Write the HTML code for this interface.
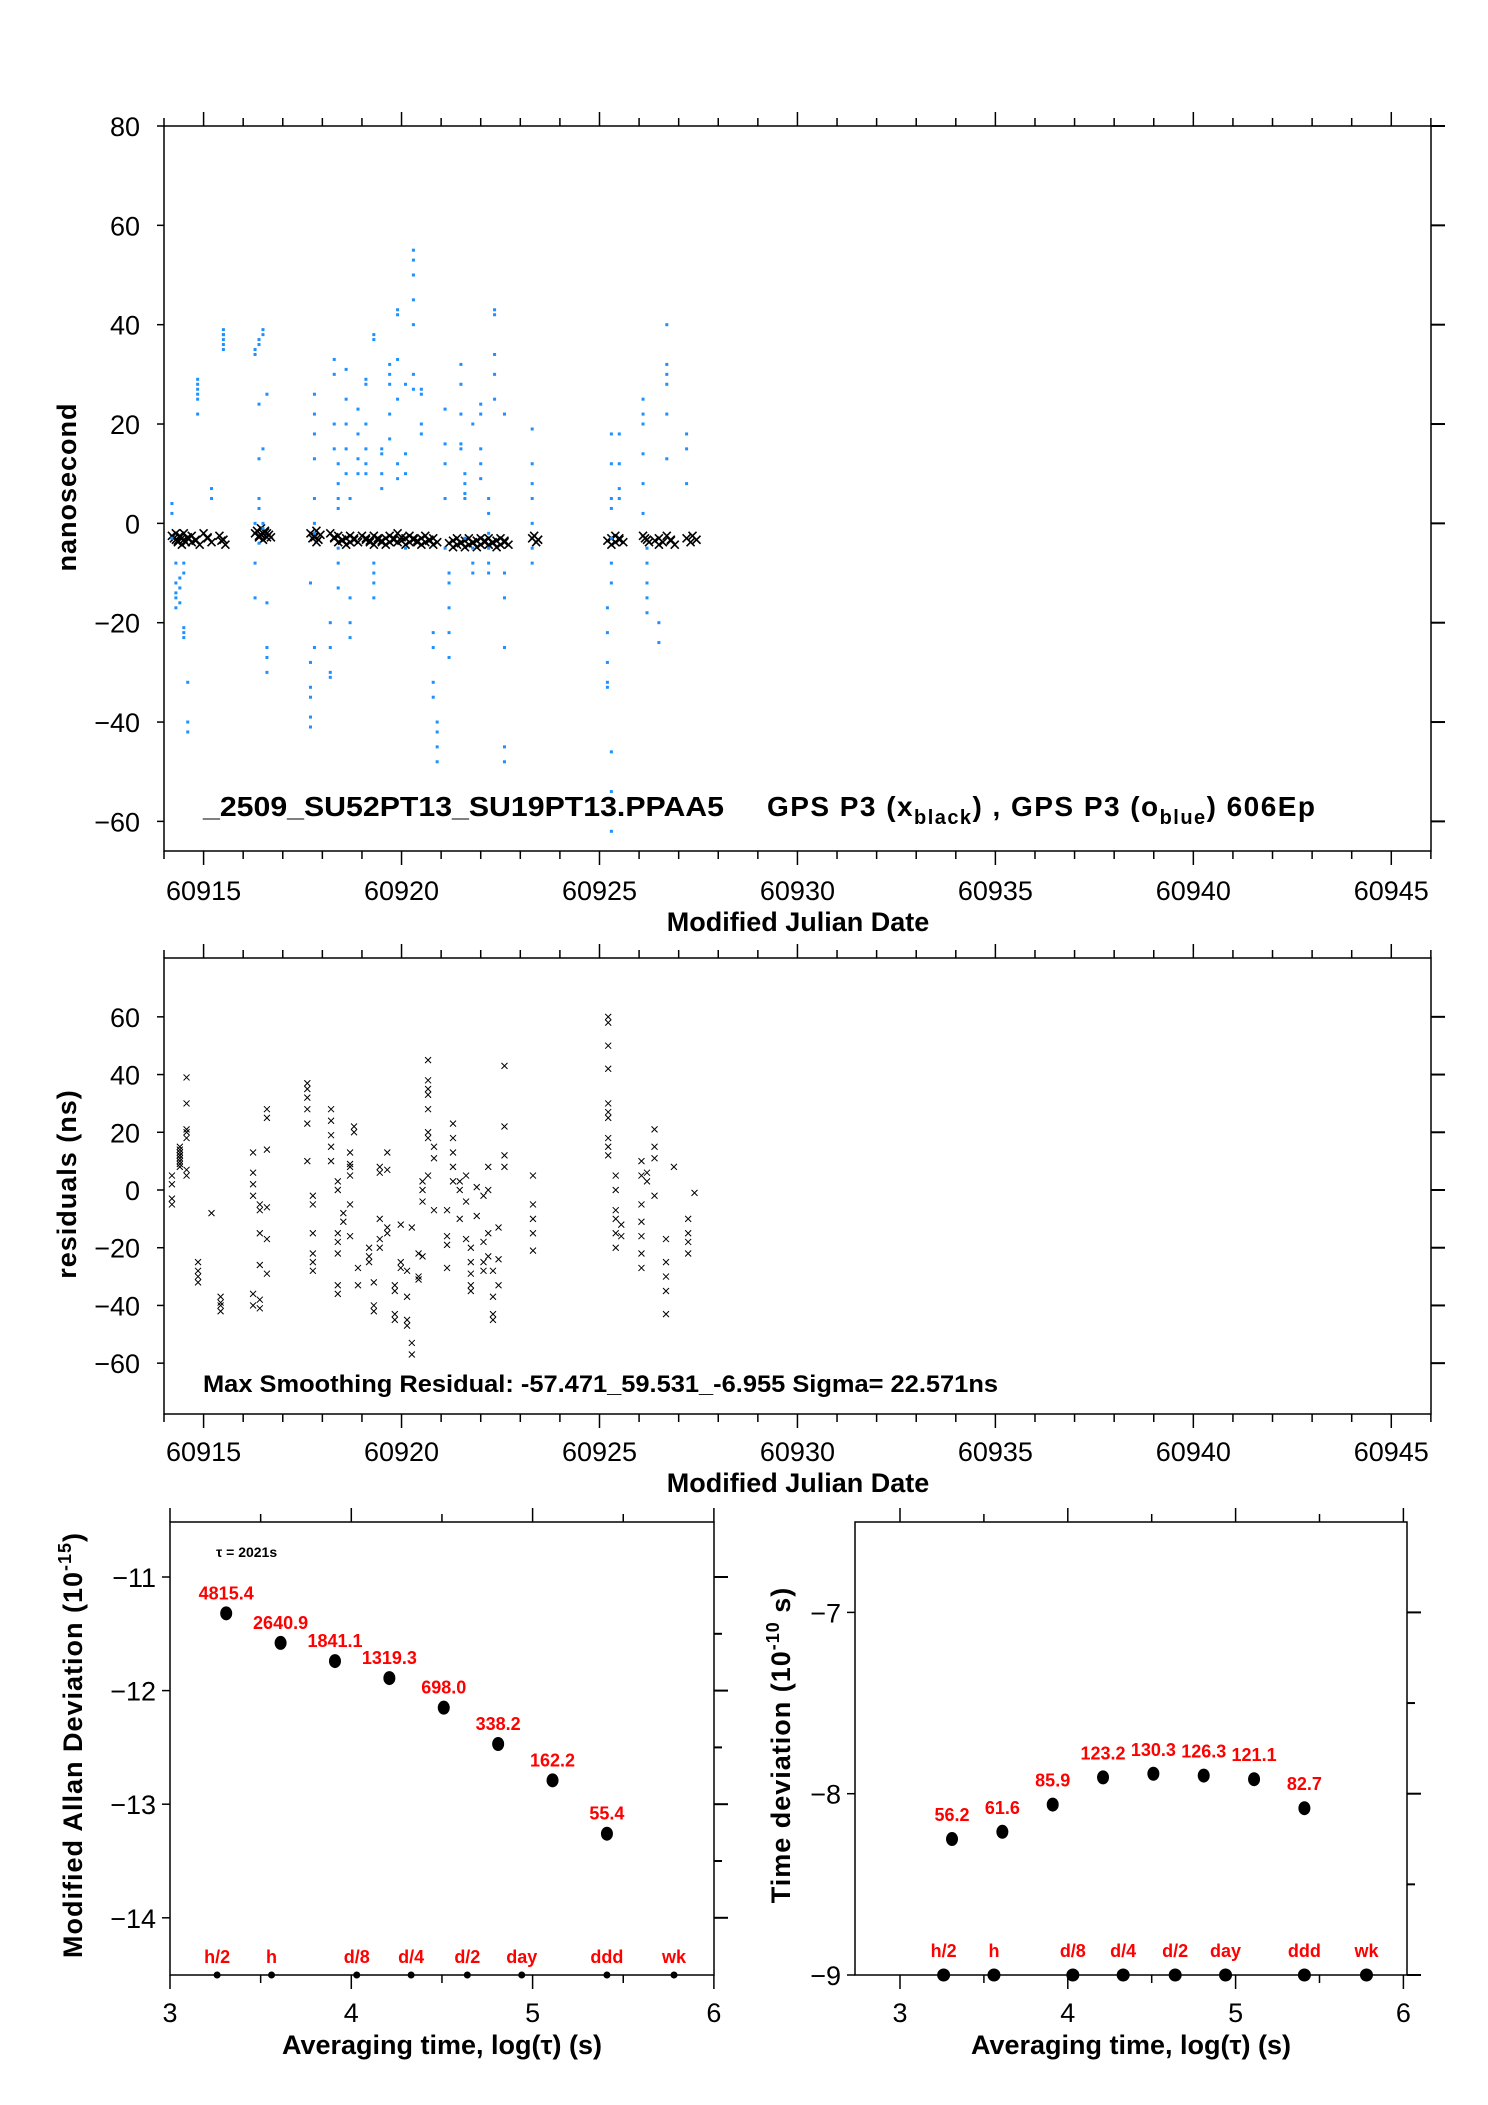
<!DOCTYPE html>
<html><head><meta charset="utf-8">
<style>
html,body{margin:0;padding:0;background:#fff;}
svg{display:block;font-family:"Liberation Sans",sans-serif;}
</style></head>
<body>
<svg id="fig" width="1488" height="2105" viewBox="0 0 1488 2105" xmlns="http://www.w3.org/2000/svg">
<rect x="0" y="0" width="1488" height="2105" fill="#fff"/>
<g id="top"></g>
<g id="mid"></g>
<g id="adev"></g>
<g id="tdev"></g>
</svg>
<script>
// ---------- data ----------
const mjdTicks = [60915,60920,60925,60930,60935,60940,60945];
const topYTicks = [80,60,40,20,0,-20,-40,-60];
const midYTicks = [60,40,20,0,-20,-40,-60];
const blueMjd = [60914.2,60914.3,60914.4,60914.5,60914.6,60914.85,60915.2,60915.5,60916.3,60916.4,60916.5,60916.6,60917.7,60917.8,60918.2,60918.3,60918.4,60918.6,60918.7,60918.9,60919.1,60919.3,60919.5,60919.7,60919.9,60920.1,60920.3,60920.5,60920.8,60920.9,60921.1,60921.2,60921.5,60921.6,60921.8,60922.0,60922.2,60922.35,60922.6,60923.3,60925.2,60925.3,60925.5,60926.1,60926.2,60926.5,60926.7,60927.2];
const blueNs = [[4,2,-3],[-8,-12,-15,-17,-14],[-16,-13,-11],[-21,-22,-23,-8,-10],[-32,-42,-40],[22,25,26,27,28,29],[5,7],[35,37,38,39,38,36],[34,35,-15,-8,0],[37,36,24,13,5,3,-4],[38,39,15,0,-1],[26,-16,-25,-27,-30],[-28,-33,-35,-39,-41,-12],[26,22,18,13,5,0,-2,-25],[-20,-25,-30,-31],[33,30,20,15],[12,8,5,3,-5,-8,-13],[31,25,20,15,10],[5,-15,-20,-23],[23,18,13,10],[29,28,20,15,12,10],[38,37,-8,-10,-12,-15],[15,14,10,7],[32,30,28,22,17],[43,42,33,25,12,9],[28,14,10,-5],[55,53,50,45,40,30,27],[20,18,27,26],[-22,-25,-32,-35],[-40,-42,-48,-45],[23,16,12,5,-5],[-10,-12,-17,-22,-27],[32,28,22,16,15],[10,8,6,5,-3],[-5,-8,-10,20],[24,22,15,12,9],[5,2,-2,-5,-8,-10],[43,42,34,30,25],[22,-25,-45,-48,-15,-10],[19,12,8,5,0,-5,-8],[-17,-22,-28,-32,-33],[18,12,5,3,-3,-8,-12,-46,-54,-62],[18,12,7,5],[25,22,20,14,8,2],[-5,-8,-12,-15,-18],[-24,-20],[40,32,30,28,22,13],[18,15,8]];
const blackMjd = [60914.2,60914.25,60914.3,60914.35,60914.4,60914.45,60914.5,60914.6,60914.7,60914.8,60915.0,60915.1,60915.4,60915.45,60916.3,60916.35,60916.4,60916.45,60916.5,60916.55,60916.6,60917.7,60917.75,60917.8,60917.85,60918.2,60918.3,60918.4,60918.5,60918.6,60918.7,60918.8,60919.0,60919.1,60919.2,60919.3,60919.4,60919.5,60919.6,60919.7,60919.8,60919.9,60920.0,60920.1,60920.2,60920.3,60920.4,60920.5,60920.6,60920.7,60920.8,60921.2,60921.3,60921.4,60921.5,60921.6,60921.7,60921.8,60921.9,60922.0,60922.1,60922.2,60922.3,60922.4,60922.5,60922.6,60923.3,60923.35,60925.2,60925.3,60925.4,60925.5,60926.1,60926.15,60926.4,60926.5,60926.7,60926.8,60927.2,60927.35];
const blackNs = [-2.5,-3,-2,-3.5,-2.5,-3,-2,-3,-2.5,-3.5,-2,-3,-2.5,-3.5,-2,-1.5,-2.5,-1,-2,-1.5,-2,-2,-3,-2.5,-1.5,-2,-3,-2.5,-3.5,-3,-2.5,-3,-2.5,-3,-3.5,-2.5,-3,-3.5,-3,-2.5,-3,-2,-3.5,-3,-2.5,-3,-3.5,-3,-2.5,-3.5,-3,-4,-3.5,-3,-4,-3.5,-3,-4,-3.5,-3,-3.5,-3,-4,-3.5,-3,-3.5,-3,-2.5,-3.5,-3,-2.5,-3,-2.5,-3,-3.5,-3,-2.5,-3.5,-3,-2.5];
const resMjd = [60914.2,60914.4,60914.57,60914.86,60915.2,60915.43,60916.25,60916.42,60916.6,60917.62,60917.76,60918.22,60918.39,60918.53,60918.7,60918.8,60918.9,60919.18,60919.3,60919.45,60919.64,60919.83,60919.98,60920.14,60920.26,60920.43,60920.53,60920.67,60920.82,60921.15,60921.3,60921.47,60921.63,60921.75,60921.9,60922.07,60922.19,60922.31,60922.45,60922.6,60923.32,60925.22,60925.41,60925.55,60926.06,60926.2,60926.39,60926.68,60926.88,60927.24,60927.4];
const resNs = [[-5,-3,2,5],[10,12,14,15,13,11,9,8,12],[20,18,21,39,30,5,7],[-25,-28,-30,-32],[-8],[-37,-40,-42,-39],[13,6,2,-2,-36,-40],[-5,-7,-15,-26,-38,-41],[28,25,14,-6,-17,-29],[37,35,32,28,23,10],[-2,-5,-15,-22,-25,-28],[28,24,19,15,10],[-15,-18,-22,-33,-36,0,3],[-8,-11],[13,9,8,5,-5,-16],[22,20],[-27,-33],[-20,-23,-25],[-32,-40,-42],[8,6,-10,-17,-20],[13,7,-13,-15],[-33,-35,-43,-45],[-12,-25,-27],[-37,-45,-47,-28],[-53,-57,-13],[-30,-31,-22],[-4,-23,0,3],[45,38,35,33,28,20,18,5],[15,11,-7],[-16,-19,-27,-7],[23,18,13,8,3],[-10,0,3],[5,-4,-17],[-20,-25,-29,-33,-35],[-9,1],[-18,-25,-28,-2],[-15,-23,0,8],[-37,-43,-45,-28],[-13,-24,-33],[43,22,12,8],[5,-5,-10,-15,-21],[60,58,50,42,30,27,25,18,15,12],[5,0,-7,-10,-15,-20],[-12,-16],[10,5,-5,-11,-16,-22,-27],[6,3],[21,15,11,-2],[-25,-30,-35,-43,-17],[8],[-10,-15,-18,-22],[-1]];
const adevLogTau = [3.31,3.61,3.91,4.21,4.51,4.81,5.11,5.41];
const adevVal = [-11.32,-11.58,-11.74,-11.89,-12.15,-12.47,-12.79,-13.26];
const adevLabels = ["4815.4","2640.9","1841.1","1319.3","698.0","338.2","162.2","55.4"];
const tdevLogTau = [3.31,3.61,3.91,4.21,4.51,4.81,5.11,5.41];
const tdevVal = [-8.25,-8.21,-8.06,-7.91,-7.89,-7.90,-7.92,-8.08];
const tdevLabels = ["56.2","61.6","85.9","123.2","130.3","126.3","121.1","82.7"];
const markLogTau = [3.26,3.56,4.03,4.33,4.64,4.94,5.41,5.78];
const markLabels = ["h/2","h","d/8","d/4","d/2","day","ddd","wk"];
const logTicks = [3,4,5,6];
const adevYTicks = [-11,-12,-13,-14];
const tdevYTicks = [-7,-8,-9];

// ---------- helpers ----------
const NS="http://www.w3.org/2000/svg";
function mk(parent,tag,attrs,text){const e=document.createElementNS(NS,tag);for(const k in attrs)e.setAttribute(k,attrs[k]);if(text!==undefined)e.textContent=text;parent.appendChild(e);return e;}
const xMjd = d => 164 + (d-60914)*39.59;
const yTop = v => 126 + (80-v)*4.967;
const yMid = v => 1190 - v*2.886;
const xL = l => 170 + (l-3)*181.3;
const yL = v => 1577 + (-11-v)*113.6;
const xR = l => 900 + (l-3)*167.8;
const yR = v => 1975 - (v+9)*181.3;

function frame(g,x0,y0,x1,y1){
  const r=mk(g,'rect',{x:x0,y:y0,width:x1-x0,height:y1-y0,fill:'none',stroke:'#000','stroke-width':1.5});
  
  
}
function mjdAxes(g,y0,y1,yTicks,yf,labelY,titleY){
  for(let d=60914; d<=60946; d++){
    const x=xMjd(d), major=(d%5===0);
    const L=major?14:8;
    mk(g,'line',{x1:x,y1:y0,x2:x,y2:y0-L,stroke:'#000','stroke-width':1.5});
    mk(g,'line',{x1:x,y1:y1,x2:x,y2:y1+L,stroke:'#000','stroke-width':1.5});
  }
  mjdTicks.forEach(t=>{
    const e=mk(g,'text',{x:xMjd(t),y:labelY,'font-size':27,'text-anchor':'middle'},String(t));
    
    
  });
  yTicks.forEach(t=>{
    const y=yf(t);
    mk(g,'line',{x1:157,y1:y,x2:164,y2:y,stroke:'#000','stroke-width':1.5});
    mk(g,'line',{x1:1431,y1:y,x2:1445,y2:y,stroke:'#000','stroke-width':2});
    const e=mk(g,'text',{x:140,y:y+10,'font-size':27,'text-anchor':'end'},(t<0?'\u2212':'')+Math.abs(t));
    
    
  });
  const tt=mk(g,'text',{x:798,y:titleY,'font-size':27,'font-weight':'bold','text-anchor':'middle'},'Modified Julian Date');
  
  
}
function xmark(g,x,y,s,w){
  mk(g,'path',{d:`M${x-s} ${y-s}L${x+s} ${y+s}M${x-s} ${y+s}L${x+s} ${y-s}`,stroke:'#000','stroke-width':w,fill:'none'});
}

// ---------- top chart ----------
const gt=document.getElementById('top');
frame(gt,164,126,1431,851);
mjdAxes(gt,126,851,topYTicks,yTop,900,931);
let e=mk(gt,'text',{x:0,y:0,'font-size':27,'font-weight':'bold','text-anchor':'middle',transform:'translate(76,487) rotate(-90)','letter-spacing':'1'},'nanosecond');


const gb=mk(gt,'g',{});


blackMjd.forEach((d,i)=>{ xmark(gb,xMjd(d),yTop(blackNs[i]),4,1.6); xmark(gb,xMjd(d)+4,yTop(blackNs[i]-0.8),4,1.6); });
const gbl=mk(gt,'g',{fill:'#1e90ff'});


blueMjd.forEach((d,i)=>{ blueNs[i].forEach(v=>{ mk(gbl,'rect',{x:xMjd(d)-1.5,y:yTop(v)-1.5,width:3,height:3}); }); });
e=mk(gt,'text',{x:203,y:816,'font-size':28,'font-weight':'bold',textLength:521,lengthAdjust:'spacingAndGlyphs'},'_2509_SU52PT13_SU19PT13.PPAA5');


e=mk(gt,'text',{x:767,y:816,'font-size':28,'font-weight':'bold'});


e.innerHTML='GPS P3 (x<tspan font-size="20" dy="8">black</tspan><tspan dy="-8">) ,  GPS P3 (o</tspan><tspan font-size="20" dy="8">blue</tspan><tspan dy="-8">)  606Ep</tspan>';
e.setAttribute('textLength','548');

// ---------- residuals chart ----------
const gm=document.getElementById('mid');
frame(gm,164,958,1431,1414);
mjdAxes(gm,958,1414,midYTicks,yMid,1461,1492);
e=mk(gm,'text',{x:0,y:0,'font-size':27,'font-weight':'bold','text-anchor':'middle',transform:'translate(76,1184) rotate(-90)','letter-spacing':'1'},'residuals (ns)');


const gr=mk(gm,'g',{});


resMjd.forEach((d,i)=>{ resNs[i].forEach(v=>{ xmark(gr,xMjd(d),yMid(v),3,1); }); });
e=mk(gm,'text',{x:203,y:1392,'font-size':24,'font-weight':'bold',textLength:795,lengthAdjust:'spacingAndGlyphs'},'Max Smoothing Residual: -57.471_59.531_-6.955  Sigma= 22.571ns');



// ---------- stability charts ----------
function stabAxes(g,xf,yf,x0,x1,y0,y1,yTicks,minorY){
  for(let l=3; l<=6.001; l+=0.5){
    const x=xf(l), major=Math.abs(l-Math.round(l))<0.01;
    mk(g,'line',{x1:x,y1:y0,x2:x,y2:y0-(major?14:8),stroke:'#000','stroke-width':1.5});
    mk(g,'line',{x1:x,y1:y1,x2:x,y2:y1+(major?14:8),stroke:'#000','stroke-width':1.5});
  }
  logTicks.forEach(t=>{
    const e=mk(g,'text',{x:xf(t),y:2022,'font-size':27,'text-anchor':'middle'},String(t));
    
    
  });
  yTicks.forEach(t=>{
    const y=yf(t);
    mk(g,'line',{x1:x0-8,y1:y,x2:x0,y2:y,stroke:'#000','stroke-width':1.5});
    mk(g,'line',{x1:x1,y1:y,x2:x1+14,y2:y,stroke:'#000','stroke-width':2});
    const e=mk(g,'text',{x:x0-14,y:y+10,'font-size':27,'text-anchor':'end'},'\u2212'+Math.abs(t));
    
    
  });
  minorY.forEach(t=>{
    mk(g,'line',{x1:x1,y1:yf(t),x2:x1+8,y2:yf(t),stroke:'#000','stroke-width':2});
  });
}
function stabSeries(g,xf,yf,lt,vals,labels,off){
  const s=mk(g,'g',{});
  
  
  lt.forEach((l,i)=>{
    const p=mk(s,'ellipse',{cx:xf(l),cy:yf(vals[i]),rx:6,ry:7,fill:'#000'});
    
    
    const t=mk(s,'text',{x:xf(l),y:yf(vals[i])-off,'font-size':18,'font-weight':'bold',fill:'#ff0000','text-anchor':'middle'},labels[i]);
    
    
  });
}
function marks(g,xf,y,r,ly){
  markLogTau.forEach((l,i)=>{
    const c=mk(g,'circle',{cx:xf(l),cy:y,r:r,fill:'#000'});
    
    
    const t=mk(g,'text',{x:xf(l),y:ly,'font-size':18,'font-weight':'bold',fill:'#ff0000','text-anchor':'middle'},markLabels[i]);
    
    
  });
}
const ga=document.getElementById('adev');
frame(ga,170,1522,714,1975);
stabAxes(ga,xL,yL,170,714,1522,1975,adevYTicks,[-11.5,-12.5,-13.5]);
stabSeries(ga,xL,yL,adevLogTau,adevVal,adevLabels,14);
marks(ga,xL,1975,3.5,1963);
e=mk(ga,'text',{x:216,y:1557,'font-size':14,'font-weight':'bold'},'\u03c4 = 2021s');


e=mk(ga,'text',{x:442,y:2054,'font-size':27,'font-weight':'bold','text-anchor':'middle'},'Averaging time, log(\u03c4) (s)');


e=mk(ga,'text',{x:0,y:0,'font-size':27,'font-weight':'bold','text-anchor':'middle',transform:'translate(82,1745) rotate(-90)','letter-spacing':'1'});


e.innerHTML='Modified Allan Deviation (10<tspan font-size="18" dy="-11">-15</tspan><tspan dy="11">)</tspan>';

const gd=document.getElementById('tdev');
frame(gd,855,1522,1407,1975);
stabAxes(gd,xR,yR,855,1407,1522,1975,tdevYTicks,[-7.5,-8.5]);
stabSeries(gd,xR,yR,tdevLogTau,tdevVal,tdevLabels,18);
marks(gd,xR,1975,6.5,1957);
e=mk(gd,'text',{x:1131,y:2054,'font-size':27,'font-weight':'bold','text-anchor':'middle'},'Averaging time, log(\u03c4) (s)');


e=mk(gd,'text',{x:0,y:0,'font-size':27,'font-weight':'bold','text-anchor':'middle',transform:'translate(790,1745) rotate(-90)','letter-spacing':'1'});


e.innerHTML='Time deviation (10<tspan font-size="18" dy="-11">-10</tspan><tspan dy="11"> s)</tspan>';
</script>
</body></html>
